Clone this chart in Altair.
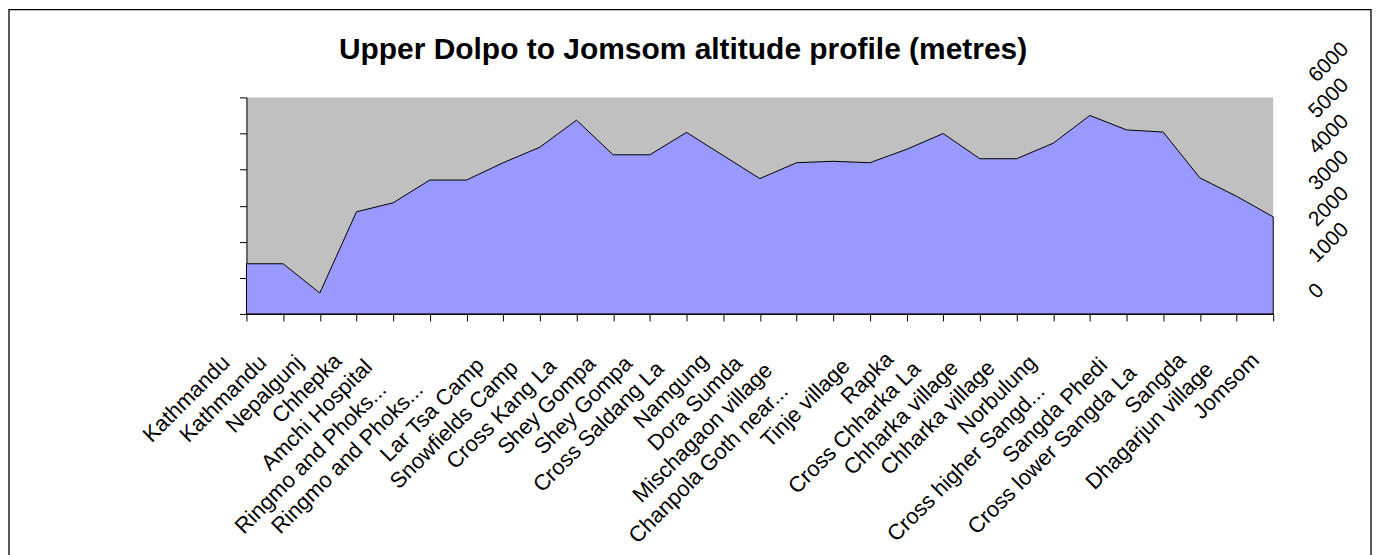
import altair as alt
import pandas as pd

places = ["Kathmandu", "Kathmandu", "Nepalgunj", "Chhepka", "Amchi Hospital",
          "Ringmo and Phoks...", "Ringmo and Phoks...", "Lar Tsa Camp",
          "Snowfields Camp", "Cross Kang La", "Shey Gompa", "Shey Gompa",
          "Cross Saldang La", "Namgung", "Dora Sumda", "Mischagaon village",
          "Chanpola Goth near...", "Tinje village", "Rapka", "Cross Chharka La",
          "Chharka village", "Chharka village", "Norbulung",
          "Cross higher Sangd...", "Sangda Phedi", "Cross lower Sangda La",
          "Sangda", "Dhagarjun village", "Jomsom"]
altitudes = [1390, 1390, 580, 2830, 3080, 3710, 3710, 4190, 4620, 5370, 4410,
             4410, 5030, 4390, 3750, 4190, 4230, 4190, 4560, 5000, 4300, 4300,
             4730, 5500, 5100, 5040, 3770, 3260, 2690]
y_ticks = [0, 1000, 2000, 3000, 4000, 5000, 6000]

df = pd.DataFrame({"idx": list(range(len(places))), "place": places, "alt": altitudes})

FONT = "Liberation Sans"
names_js = "[" + ",".join("'" + p.replace("'", "\\'") + "'" for p in places) + "]"
label_expr = names_js + "[datum.value]"
# Excel-like placement: longer (and truncated) labels sit further down-left
shift = ("(30 + 1.2*length({n}[datum.value]) + "
         "(indexof({n}[datum.value], '...') > 0 ? 26 : 0))").format(n=names_js)

x_enc = alt.X(
    "idx:Q",
    scale=alt.Scale(domain=[0, len(places) - 1], nice=False, zero=False),
    axis=alt.Axis(
        values=list(range(len(places))), labelExpr=label_expr, labelAngle=-45,
        labelAlign="right", labelBaseline="middle",
        labelPadding=alt.ExprRef(expr="9 + 0.707*" + shift),
        labelOffset=alt.ExprRef(expr="8 - 0.707*" + shift),
        labelOverlap=False, labelLimit=0, labelFontSize=22, labelFont=FONT,
        labelColor="black", tickSize=7, tickColor="black", domainColor="black",
        grid=False, title=None,
    ),
)

y_scale = alt.Scale(domain=[0, 6000], nice=False)

area = alt.Chart(df).mark_area(color="#9999FF", stroke="black", strokeWidth=1).encode(
    x=x_enc,
    y=alt.Y("alt:Q", scale=y_scale,
            axis=alt.Axis(orient="left", labels=False, values=y_ticks, tickSize=7,
                          tickColor="black", domainColor="black", grid=False, title=None)),
)

right_labels = alt.Chart(df).mark_line(strokeOpacity=0).encode(
    x=x_enc,
    y=alt.Y("alt:Q", scale=y_scale,
            axis=alt.Axis(orient="right", values=y_ticks, format="d", domain=False,
                          ticks=False, grid=False, title=None, labelAngle=-45,
                          labelAlign="left", labelBaseline="middle", labelPadding=39,
                          labelOffset=-19, labelOverlap=False, labelFontSize=21,
                          labelFont=FONT, labelColor="black")),
)

border = alt.Chart(pd.DataFrame({"d": [0]})).mark_rect(
    fill="white", fillOpacity=0, stroke="black", strokeWidth=1.3
).encode(x=alt.value(-238), x2=alt.value(1127), y=alt.value(-88), y2=alt.value(464))

chart = alt.layer(border, area, right_labels).resolve_axis(y="independent").properties(
    width=1029, height=217, padding=0,
    title=alt.Title("Upper Dolpo to Jomsom altitude profile (metres)", font=FONT,
                    fontSize=30, fontWeight="bold", color="black", anchor="middle",
                    frame="group", dx=-77, offset=-80, baseline="alphabetic"),
).configure_view(fill="#C0C0C0", strokeWidth=0)

chart.save("out.html", embed_options={"renderer": "svg", "actions": False})
